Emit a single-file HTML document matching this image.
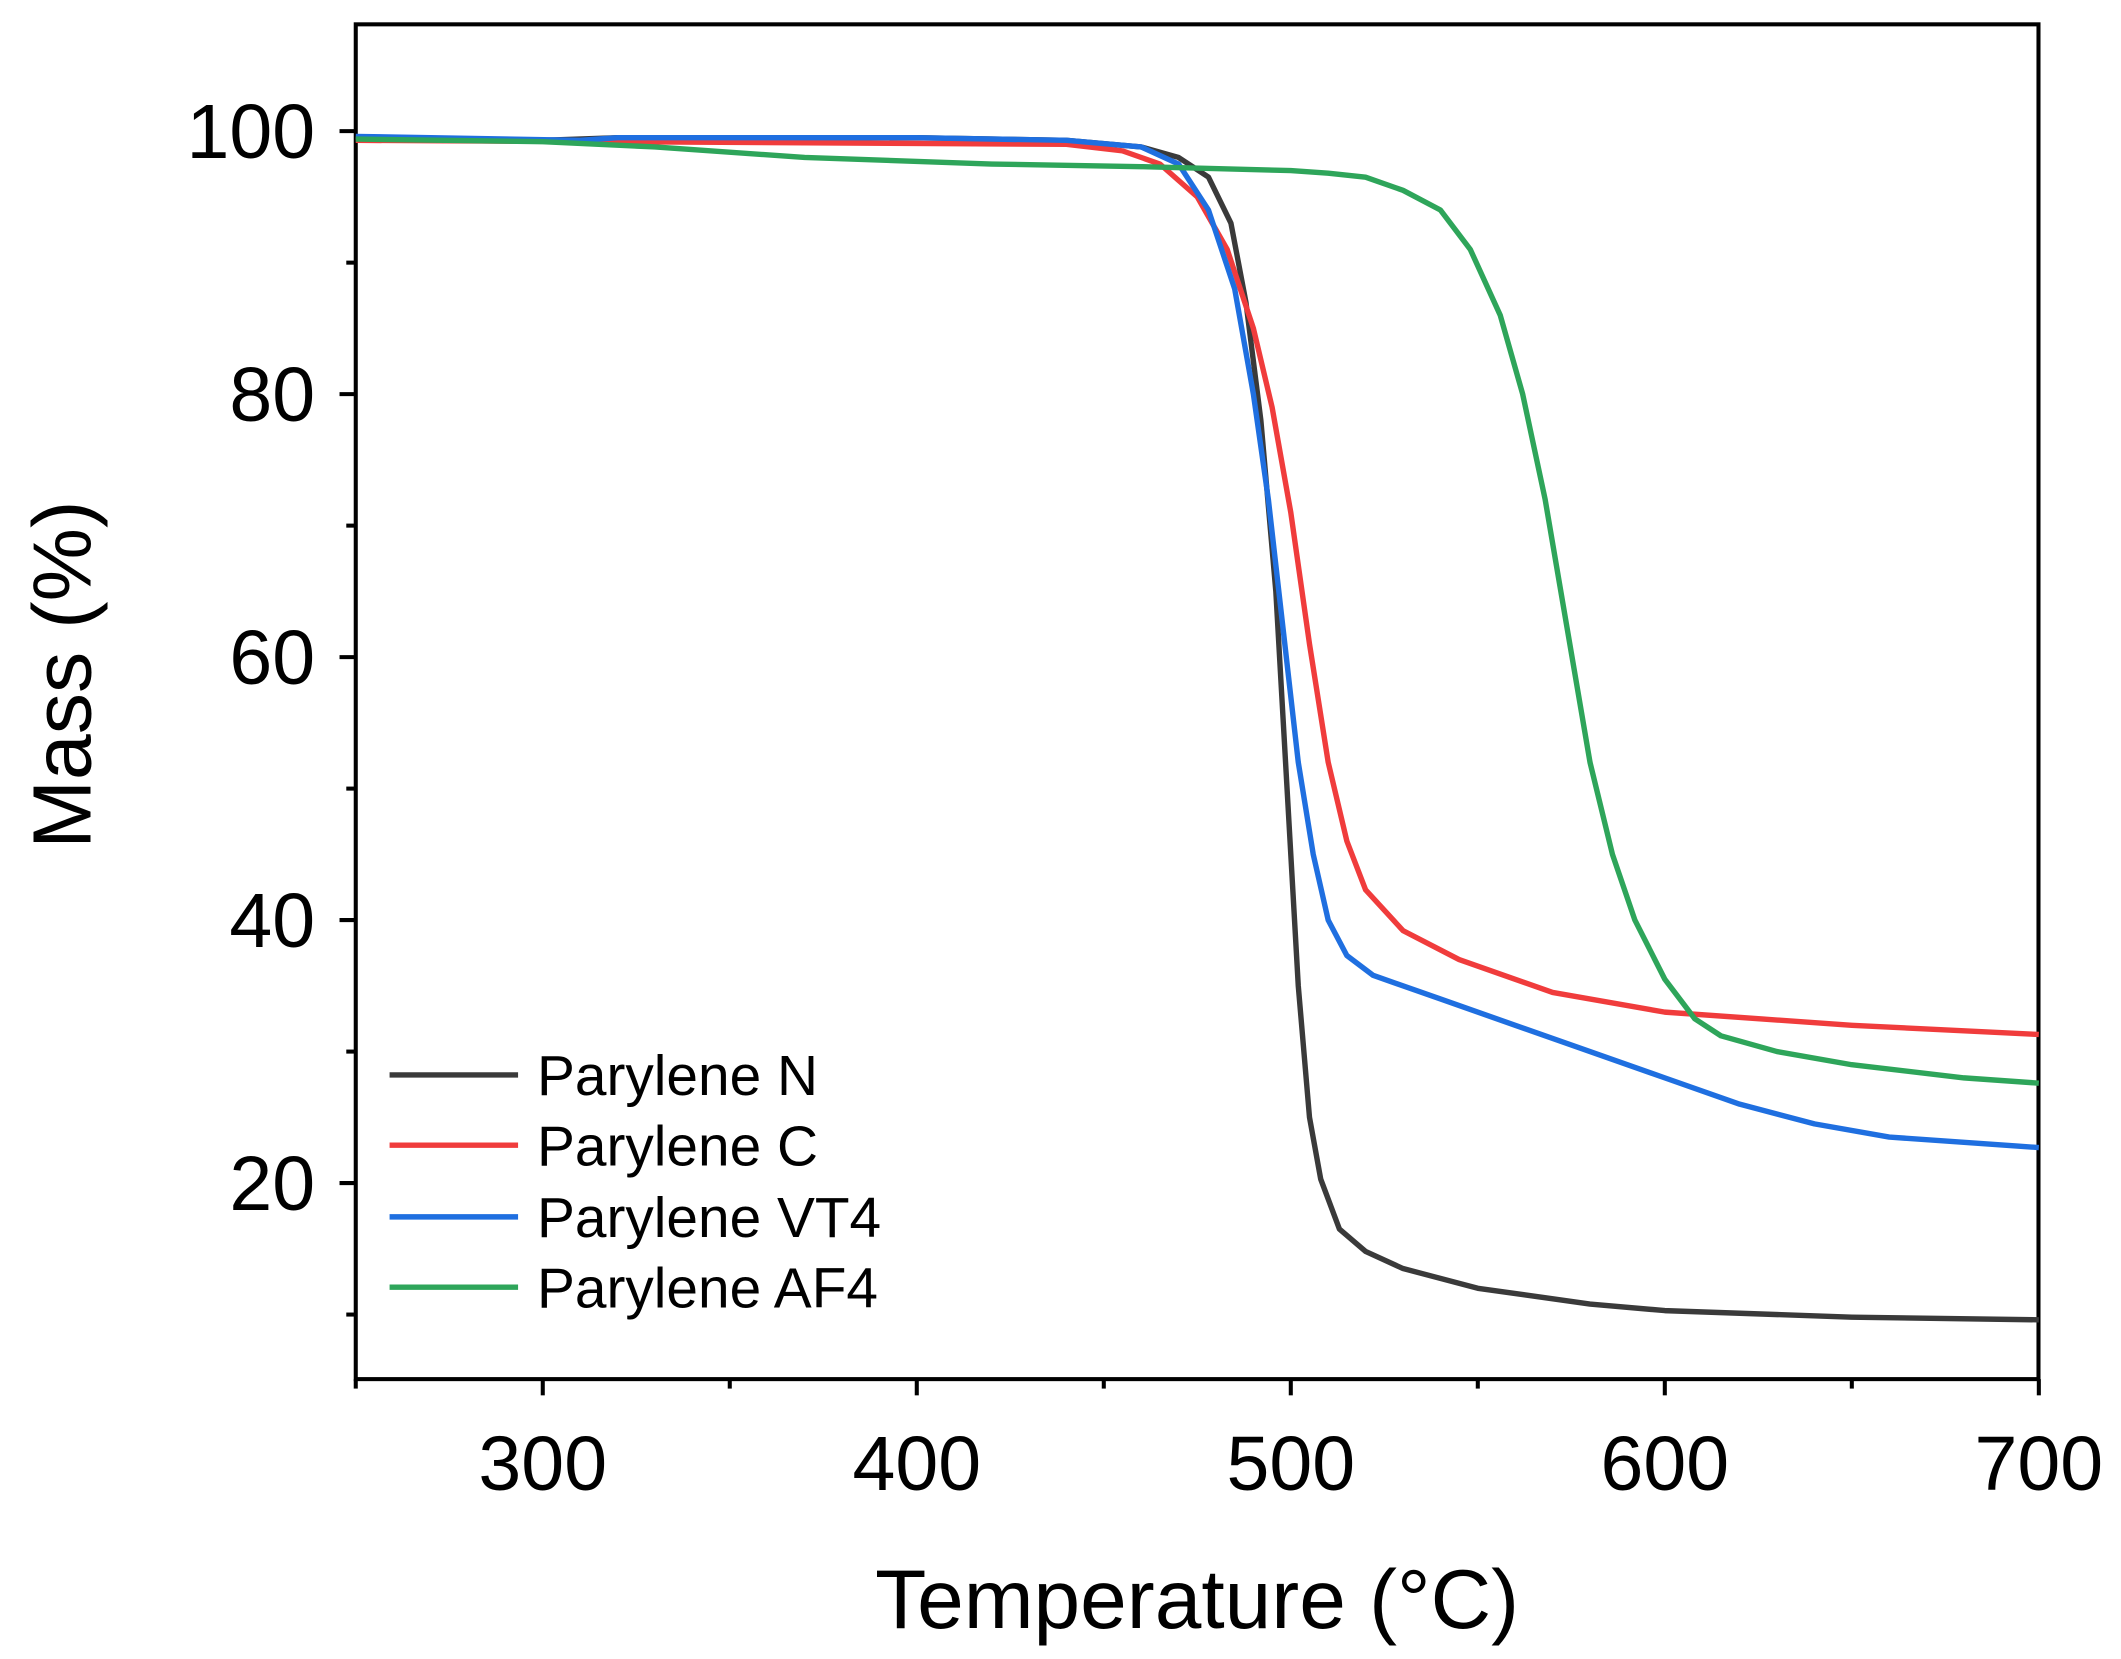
<!DOCTYPE html>
<html><head><meta charset="utf-8"><style>
html,body{margin:0;padding:0;background:#fff}
svg{display:block}
text{font-family:"Liberation Sans",Arial,sans-serif;fill:#000}
</style></head><body>
<svg id="s" width="2121" height="1659" viewBox="0 0 1568 1227" preserveAspectRatio="none" xmlns="http://www.w3.org/2000/svg">
<rect x="263" y="18" width="1244" height="1002" fill="none" stroke="#000" stroke-width="3"/>
<g id="ticks" stroke="#000" stroke-width="3"></g>
<g id="labels" font-size="57"></g>
<g id="curves" fill="none" stroke-width="4" stroke-linejoin="round"></g>
<g stroke-width="4">
<line x1="288" y1="795" x2="383" y2="795" stroke="#3a3a3a"/>
<line x1="288" y1="847" x2="383" y2="847" stroke="#f03c3c"/>
<line x1="288" y1="900" x2="383" y2="900" stroke="#1f6fe0"/>
<line x1="288" y1="952" x2="383" y2="952" stroke="#2ea55a"/>
</g>
<g font-size="42">
<text x="397" y="810">Parylene N</text>
<text x="397" y="862">Parylene C</text>
<text x="397" y="915">Parylene VT4</text>
<text x="397" y="967">Parylene AF4</text>
</g>
<text x="885" y="1204" font-size="62" text-anchor="middle">Temperature (°C)</text>
<text transform="translate(67,499) rotate(-90)" font-size="61" text-anchor="middle">Mass (%)</text>
</svg>
<script>
var NS="http://www.w3.org/2000/svg";
function X(t){return 263+(t-250)*2.765}
function Y(v){return 97+(100-v)*9.725}
function el(p,n,a,txt){var e=document.createElementNS(NS,n);for(var k in a)e.setAttribute(k,a[k]);if(txt)e.textContent=txt;document.getElementById(p).appendChild(e);}
for(var t=250;t<=700;t+=50){var maj=t%100==0;el("ticks","line",{x1:X(t),x2:X(t),y1:1020,y2:maj?1032:1027});if(maj)el("labels","text",{x:X(t),y:1102,"text-anchor":"middle"},""+t);}
for(var v=10;v<=100;v+=10){var maj=v%20==0;el("ticks","line",{x1:263,x2:maj?251:256,y1:Y(v),y2:Y(v)});if(maj)el("labels","text",{x:233,y:Y(v)+20,"text-anchor":"end"},""+v);}
var D={
"#3a3a3a":[[250,99.5],[300,99.3],[320,99.5],[400,99.5],[440,99.3],[460,98.8],[470,98],[478,96.5],[484,93],[488,87],[492,78],[496,65],[499,50],[502,35],[505,25],[508,20.3],[513,16.5],[520,14.8],[530,13.5],[550,12],[580,10.8],[600,10.3],[650,9.8],[700,9.6]],
"#f03c3c":[[250,99.3],[320,99.2],[440,99],[455,98.5],[465,97.5],[475,95],[483,91],[490,85],[495,79],[500,71],[505,61],[510,52],[515,46],[520,42.3],[530,39.2],[545,37],[570,34.5],[600,33],[650,32],[700,31.3]],
"#1f6fe0":[[250,99.6],[310,99.3],[320,99.5],[400,99.5],[440,99.3],[460,98.8],[470,97.5],[478,94],[485,88],[490,80],[494,72],[498,62],[502,52],[506,45],[510,40],[515,37.3],[522,35.8],[540,34],[560,32],[580,30],[600,28],[620,26],[640,24.5],[660,23.5],[700,22.7]],
"#2ea55a":[[250,99.4],[300,99.2],[330,98.8],[370,98],[420,97.5],[460,97.3],[500,97],[510,96.8],[520,96.5],[530,95.5],[540,94],[548,91],[556,86],[562,80],[568,72],[574,62],[580,52],[586,45],[592,40],[600,35.5],[608,32.5],[615,31.2],[630,30],[650,29],[680,28],[700,27.6]]};
for(var c in D){el("curves","polyline",{stroke:c,points:D[c].map(function(p){return X(p[0])+","+Y(p[1])}).join(" ")});}
</script>
</body></html>
